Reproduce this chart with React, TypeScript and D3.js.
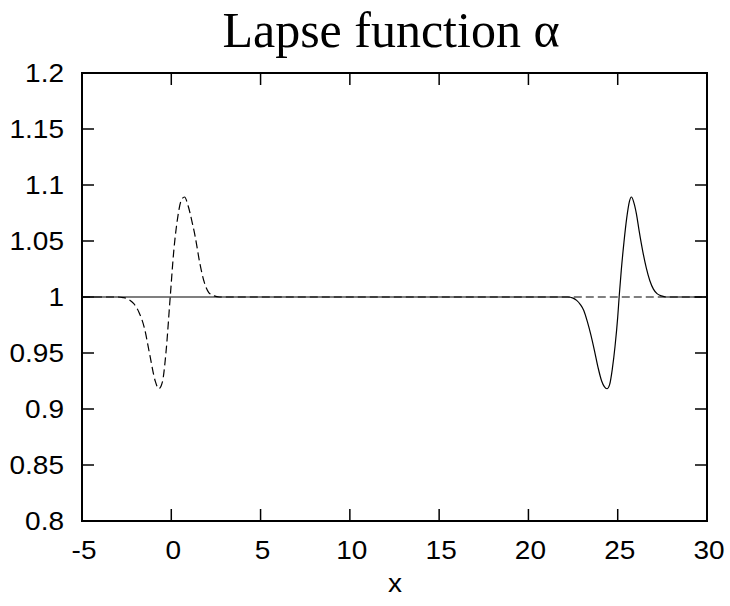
import React from "react";
import * as d3 from "d3";

const title = "Lapse function \u03b1";
const xLabel = "x";
const xTicks = [-5, 0, 5, 10, 15, 20, 25, 30];
const yTicks = [0.8, 0.85, 0.9, 0.95, 1, 1.05, 1.1, 1.15, 1.2];
const yTickLabels = ["0.8", "0.85", "0.9", "0.95", "1", "1.05", "1.1", "1.15", "1.2"];

// Dashed curve: pulse near x = 0
const dashedX = [-5, -3, -2.7, -2.4, -2.1, -1.8, -1.5, -1.2, -0.9, -0.7, -0.5, -0.3, -0.06, 0.15, 0.35, 0.55, 0.74, 0.95, 1.15, 1.35, 1.6, 1.85, 2.1, 2.4, 2.7, 30];
const dashedY = [1, 1, 0.9995, 0.998, 0.994, 0.986, 0.972, 0.948, 0.925, 0.9181, 0.924, 0.95, 1, 1.043, 1.07, 1.086, 1.0893, 1.081, 1.068, 1.053, 1.03, 1.013, 1.004, 1.001, 1, 1];

// Solid curve: pulse near x = 25
const solidX = [-5, 22.2, 22.5, 22.7, 22.9, 23.1, 23.3, 23.5, 23.7, 23.9, 24.1, 24.25, 24.4, 24.55, 24.7, 24.85, 25.0, 25.08, 25.2, 25.35, 25.5, 25.65, 25.77, 25.9, 26.05, 26.2, 26.4, 26.6, 26.8, 27.0, 27.2, 27.45, 27.7, 30];
const solidY = [1, 1, 0.999, 0.997, 0.9935, 0.988, 0.978, 0.966, 0.952, 0.937, 0.925, 0.92, 0.9181, 0.922, 0.936, 0.956, 0.982, 1, 1.024, 1.049, 1.07, 1.085, 1.0893, 1.0845, 1.074, 1.059, 1.041, 1.026, 1.0145, 1.007, 1.003, 1.001, 1, 1];

const W = 730;
const H = 606;
const left = 82;
const right = 707;
const top = 73;
const bottom = 521;

const sans = "'Liberation Sans', Arial, sans-serif";

function Label(props: { x: number; y: number; anchor: "start" | "middle" | "end"; text: string }) {
  return (
    <text
      transform={`translate(${props.x},${props.y}) scale(1.12,1)`}
      textAnchor={props.anchor}
      fontFamily={sans}
      fontSize={25}
      fill="#000"
    >
      {props.text}
    </text>
  );
}

export default function App() {
  const x = d3.scaleLinear().domain([-5, 30]).range([left, right]);
  const y = d3.scaleLinear().domain([0.8, 1.2]).range([bottom, top]);
  const line = d3
    .line<[number, number]>()
    .x((d) => x(d[0]))
    .y((d) => y(d[1]))
    .curve(d3.curveMonotoneX);
  const dashedPath = line(dashedX.map((v, i) => [v, dashedY[i]] as [number, number])) || "";
  const solidPath = line(solidX.map((v, i) => [v, solidY[i]] as [number, number])) || "";
  const tickLen = 12;

  return (
    <svg
      width={W}
      height={H}
      style={{ position: "absolute", left: 0, top: 0, background: "#fff" }}
    >
      <rect x={0} y={0} width={W} height={H} fill="#fff" />
      <text
        x={391}
        y={47}
        textAnchor="middle"
        fontFamily="'Liberation Serif', 'Times New Roman', serif"
        fontSize={50}
        fill="#000"
      >
        {title}
      </text>
      {/* curves */}
      <path d={solidPath} fill="none" stroke="#000" strokeWidth={1.2} />
      <path
        d={dashedPath}
        fill="none"
        stroke="#000"
        strokeWidth={1.2}
        strokeDasharray="8,4"
      />
      {/* ticks */}
      {xTicks.map((t) => (
        <g key={"xt" + t}>
          <line x1={x(t)} x2={x(t)} y1={bottom} y2={bottom - tickLen} stroke="#000" strokeWidth={1.5} />
          <line x1={x(t)} x2={x(t)} y1={top} y2={top + tickLen} stroke="#000" strokeWidth={1.5} />
          <Label x={x(t) + 2} y={559} anchor="middle" text={String(t)} />
        </g>
      ))}
      {yTicks.map((t, i) => (
        <g key={"yt" + t}>
          <line x1={left} x2={left + tickLen} y1={y(t)} y2={y(t)} stroke="#000" strokeWidth={1.5} />
          <line x1={right} x2={right - tickLen} y1={y(t)} y2={y(t)} stroke="#000" strokeWidth={1.5} />
          <Label x={64} y={y(t) + 8.8} anchor="end" text={yTickLabels[i]} />
        </g>
      ))}
      <rect
        x={left}
        y={top}
        width={right - left}
        height={bottom - top}
        fill="none"
        stroke="#000"
        strokeWidth={2}
      />
      <Label x={395} y={592} anchor="middle" text={xLabel} />
    </svg>
  );
}
